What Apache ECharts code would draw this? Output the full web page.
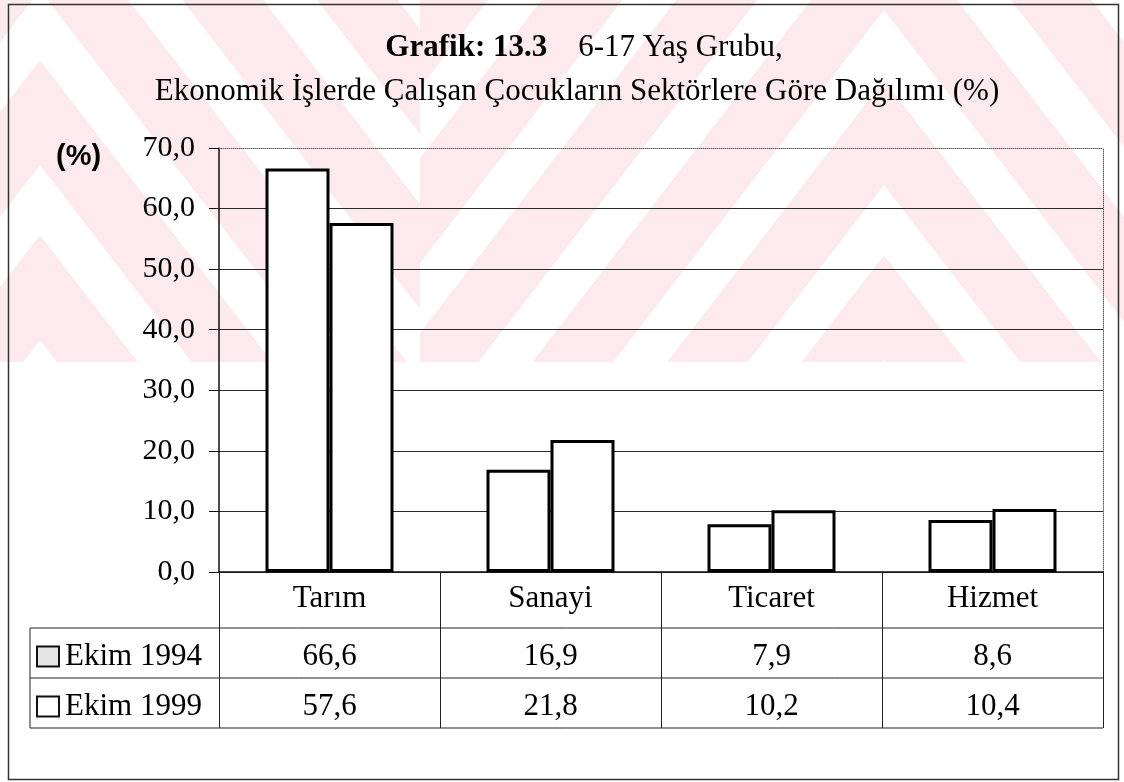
<!DOCTYPE html>
<html>
<head>
<meta charset="utf-8">
<title>Grafik 13.3</title>
<script src="https://cdn.jsdelivr.net/npm/echarts@6/dist/echarts.min.js"></script>
<style>
  html, body { margin: 0; padding: 0; background: #fff; }
  #chart { width: 1124px; height: 782px; }
</style>
</head>
<body>
<div id="chart"></div>
<script>
// --- data ---
const sectors = ["Tarım", "Sanayi", "Ticaret", "Hizmet"];
const seriesNames = ["Ekim 1994", "Ekim 1999"];
const ekim1994 = [66.6, 16.9, 7.9, 8.6];
const ekim1999 = [57.6, 21.8, 10.2, 10.4];
const yMin = 0;
const yMax = 70;
const yStep = 10;

const serif = "'Liberation Serif', 'Times New Roman', serif";
const fmt = (v) => v.toFixed(1).replace(".", ",");

// --- watermark (pale pink chevrons from the scan) ---
function clipEdge(pts, inside, cross) {
  const out = [];
  for (let i = 0; i < pts.length; i++) {
    const a = pts[i], b = pts[(i + 1) % pts.length];
    const ia = inside(a), ib = inside(b);
    if (ia) out.push(a);
    if (ia !== ib) out.push(cross(a, b));
  }
  return out;
}
function clipRect(pts, x0, x1, y0, y1) {
  const atX = (x) => (a, b) => [x, a[1] + (x - a[0]) * (b[1] - a[1]) / (b[0] - a[0])];
  const atY = (y) => (a, b) => [a[0] + (y - a[1]) * (b[0] - a[0]) / (b[1] - a[1]), y];
  pts = clipEdge(pts, (p) => p[0] >= x0, atX(x0));
  if (pts.length) pts = clipEdge(pts, (p) => p[0] <= x1, atX(x1));
  if (pts.length) pts = clipEdge(pts, (p) => p[1] >= y0, atY(y0));
  if (pts.length) pts = clipEdge(pts, (p) => p[1] <= y1, atY(y1));
  return pts;
}
function chevronBands(cx, firstApex, count, x0, x1) {
  const s = 1.3, period = 175, pink = 105, Y = 3000;
  const els = [];
  for (let k = 0; k < count; k++) {
    const a1 = firstApex + k * period;
    const a2 = a1 + pink;
    const poly = [
      [cx - (Y - a1) / s, Y], [cx, a1], [cx + (Y - a1) / s, Y],
      [cx + (Y - a2) / s, Y], [cx, a2], [cx - (Y - a2) / s, Y],
    ];
    const pts = clipRect(poly, x0, x1, 0, 362);
    if (pts.length > 2) {
      els.push({ type: "polygon", z: -10, silent: true, shape: { points: pts }, style: { fill: "#fdeaee" } });
    }
  }
  return els;
}
const watermark = [].concat(
  chevronBands(884, 255 - 175 * 8, 9, 420, 1124),
  chevronBands(40, -290 - 175 * 6, 10, 0, 420)
);

document.addEventListener("DOMContentLoaded", function () {
  const chartDom = document.getElementById("chart");
  const chart = echarts.init(chartDom, null, { renderer: "canvas" });

  // split lines: solid, top one (70) left to the dotted axis
  const splitColors = [];
  for (let v = yMin; v <= yMax; v += yStep) {
    splitColors.push(v === yMax ? "rgba(0,0,0,0)" : "#2a2a2a");
  }

  const valueLabel = { fontFamily: serif, fontSize: 31, color: "#000", margin: 13 };

  const tableLine = (x1, y1, x2, y2) => ({
    type: "line",
    z: 5,
    silent: true,
    shape: { x1: x1, y1: y1, x2: x2, y2: y2 },
    style: { stroke: "#222", lineWidth: 1 },
  });

  const option = {
    animation: false,
    backgroundColor: "#fff",
    grid: { left: 219, right: 21, top: 148, bottom: 210, outerBoundsMode: "none", containLabel: false },
    legend: seriesNames.map((name, i) => ({
      data: [name],
      orient: "vertical",
      left: 36,
      top: 641 + i * 50,
      padding: 0,
      icon: "rect",
      itemWidth: 22,
      itemHeight: 20,
      selectedMode: false,
      itemStyle: { color: i === 0 ? "#e4e4e4" : "#fff", borderColor: "#111", borderWidth: 2 },
      textStyle: { fontFamily: serif, fontSize: 31, color: "#000", lineHeight: 28, padding: [0, 0, 0, 1] },
    })),
    xAxis: [
      {
        type: "category",
        data: sectors,
        position: "bottom",
        axisLine: { show: true, lineStyle: { color: "#111", width: 1.5 } },
        axisTick: { show: true, length: 156, lineStyle: { color: "#222", width: 1 } },
        axisLabel: { fontFamily: serif, fontSize: 31, color: "#000", margin: 11 },
        splitLine: { show: false },
      },
      {
        type: "category",
        data: ekim1994.map(fmt),
        position: "bottom",
        offset: 56,
        axisLine: { show: false },
        axisTick: { show: false },
        axisLabel: valueLabel,
        splitLine: { show: false },
      },
      {
        type: "category",
        data: ekim1999.map(fmt),
        position: "bottom",
        offset: 106,
        axisLine: { show: false },
        axisTick: { show: false },
        axisLabel: valueLabel,
        splitLine: { show: false },
      },
      {
        type: "category",
        data: sectors,
        position: "top",
        axisLine: { show: true, lineStyle: { color: "#666", type: "dotted", width: 1 } },
        axisTick: { show: false },
        axisLabel: { show: false },
        splitLine: { show: false },
      },
    ],
    yAxis: [
      {
        type: "value",
        min: yMin,
        max: yMax,
        interval: yStep,
        axisLine: { show: true, lineStyle: { color: "#111", width: 1.5 } },
        axisTick: { show: true, length: 10, lineStyle: { color: "#111", width: 1 } },
        axisLabel: { formatter: fmt, fontFamily: serif, fontSize: 30, color: "#000", margin: 24 },
        splitLine: { show: true, showMaxLine: false, lineStyle: { color: splitColors, width: 1.2 } },
      },
      {
        type: "value",
        position: "right",
        min: yMin,
        max: yMax,
        interval: yStep,
        axisLine: { show: true, lineStyle: { color: "#666", type: "dotted", width: 1 } },
        axisTick: { show: false },
        axisLabel: { show: false },
        splitLine: { show: false },
      },
    ],
    series: [
      {
        name: seriesNames[0],
        type: "bar",
        data: ekim1994,
        barWidth: 64,
        barGap: "0%",
        itemStyle: { color: "#fff", borderColor: "#000", borderWidth: 3 },
      },
      {
        name: seriesNames[1],
        type: "bar",
        data: ekim1999,
        barWidth: 64,
        barGap: "0%",
        itemStyle: { color: "#fff", borderColor: "#000", borderWidth: 3 },
      },
    ],
    graphic: watermark.concat([
      // outer frame of the figure
      {
        type: "rect",
        z: 5,
        silent: true,
        shape: { x: 8.5, y: 4.5, width: 1110, height: 775 },
        style: { fill: null, stroke: "#333", lineWidth: 1.5 },
      },
      // title
      {
        type: "text",
        z: 5,
        x: 584,
        y: 48,
        style: {
          text: "{b|Grafik: 13.3}    6-17 Yaş Grubu,",
          fontFamily: serif,
          fontSize: 31,
          fill: "#000",
          align: "center",
          verticalAlign: "middle",
          rich: { b: { fontFamily: serif, fontSize: 31, fontWeight: "bold", fill: "#000" } },
        },
      },
      {
        type: "text",
        z: 5,
        x: 577,
        y: 92,
        style: {
          text: "Ekonomik İşlerde Çalışan Çocukların Sektörlere Göre Dağılımı (%)",
          fontFamily: serif,
          fontSize: 31,
          fill: "#000",
          align: "center",
          verticalAlign: "middle",
        },
      },
      // unit label
      {
        type: "text",
        z: 5,
        x: 56,
        y: 157,
        style: {
          text: "(%)",
          fontFamily: "'Liberation Sans', Arial, sans-serif",
          fontSize: 29,
          fontWeight: "bold",
          fill: "#000",
          align: "left",
          verticalAlign: "middle",
        },
      },
      // data table frame
      tableLine(30, 628, 1103, 628),
      tableLine(30, 678, 1103, 678),
      tableLine(30, 728, 1103, 728),
      tableLine(30, 628, 30, 728),
    ]),
  };

  chart.setOption(option);
  window.addEventListener("resize", function () {
    chart.resize();
  });
});
</script>
</body>
</html>
